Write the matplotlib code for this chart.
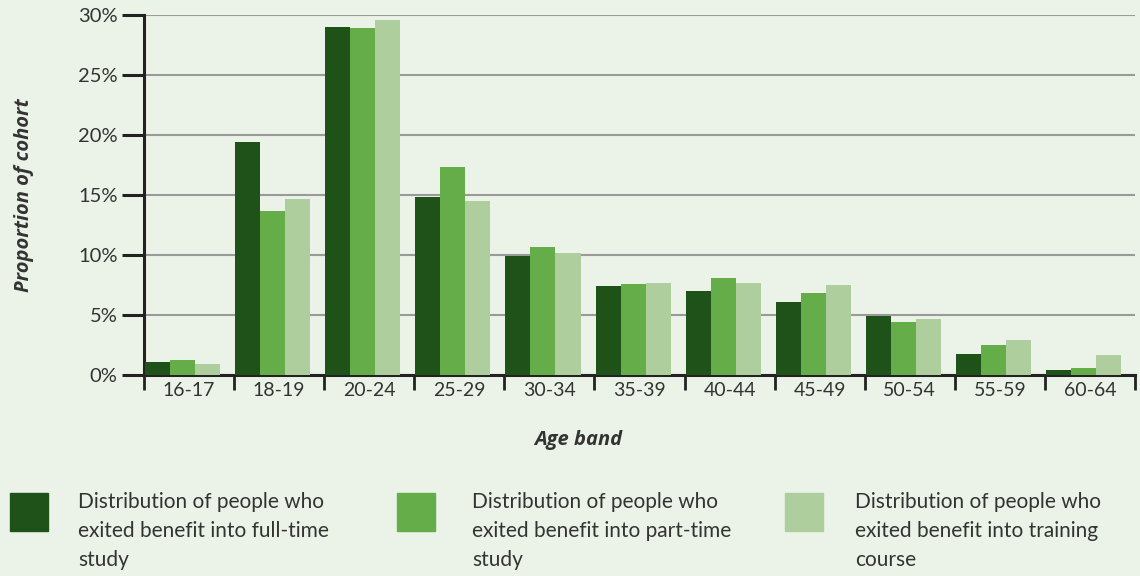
import numpy as np
import matplotlib
matplotlib.use("Agg")
from matplotlib import pyplot as plt
from matplotlib.patches import Rectangle
from matplotlib.ticker import FuncFormatter

plt.rcParams['font.family'] = ['Lato', 'DejaVu Sans']

# data (% of cohort)
age_bands = ['16-17', '18-19', '20-24', '25-29', '30-34', '35-39',
             '40-44', '45-49', '50-54', '55-59', '60-64']
full_time = [1.1, 19.4, 29.0, 14.8, 9.9, 7.4, 7.0, 6.1, 4.9, 1.75, 0.4]
part_time = [1.25, 13.7, 28.9, 17.3, 10.7, 7.6, 8.1, 6.8, 4.4, 2.5, 0.55]
training = [0.9, 14.7, 29.6, 14.5, 10.2, 7.7, 7.7, 7.5, 4.7, 2.9, 1.65]

series_labels = ['Distribution of people who\nexited benefit into full-time\nstudy',
                 'Distribution of people who\nexited benefit into part-time\nstudy',
                 'Distribution of people who\nexited benefit into training\ncourse']
colors = ['#1f5218', '#65ad49', '#aecf9d']
bg = '#ebf3e8'
txt = '#333333'

fig = plt.figure(figsize=(11.4, 5.76), dpi=100, facecolor=bg)
ax = fig.add_axes([144/1140, 1 - 375/576, 991/1140, 360/576])
ax.set_facecolor(bg)

x = np.arange(len(age_bands))
w = 25/90
for k, vals in enumerate([full_time, part_time, training]):
    ax.bar(x + 0.012 + w*k, vals, width=w, align='edge', color=colors[k], zorder=3)

ax.set_xlim(0, len(age_bands))
ax.set_ylim(0, 30)
ax.set_yticks(np.arange(0, 31, 5))
ax.yaxis.set_major_formatter(FuncFormatter(lambda v, p: f'{int(v)}%'))
ax.grid(axis='y', color='#9a9a9a', linewidth=1.5, zorder=0)

ax.set_xticks(np.arange(len(age_bands) + 1))
ax.set_xticklabels([])
ax.set_xticks(x + 0.5, minor=True)
ax.set_xticklabels(age_bands, minor=True)
ax.tick_params(axis='x', which='major', length=11, width=2, color='#222222')
ax.tick_params(axis='x', which='minor', length=0, pad=5, labelsize=14, labelcolor=txt)
ax.tick_params(axis='y', length=16, width=2.2, color='#222222', pad=3, labelsize=14.5, labelcolor=txt)

for s in ['top', 'right']:
    ax.spines[s].set_visible(False)
for s in ['left', 'bottom']:
    ax.spines[s].set_linewidth(2.2)
    ax.spines[s].set_color('#222222')

lab_font = dict(fontsize=14.5, fontweight='bold', style='italic', color=txt,
                family=['Open Sans', 'DejaVu Sans'])
ax.set_xlabel('Age band', **lab_font)
ax.xaxis.set_label_coords((578 - 144)/991, -(440 - 375)/360, transform=ax.transAxes)
ax.xaxis.label.set_va('center')
ax.set_ylabel('Proportion of cohort', **lab_font)
ax.yaxis.set_label_coords(-(144 - 24)/991, 0.5)
ax.yaxis.label.set_va('center')

# legend along the bottom
sq_x = [10, 397, 785]
tx_x = [78, 472, 855]
for k in range(3):
    fig.patches.append(Rectangle((sq_x[k]/1140, 1 - 531/576), 38/1140, 38/576,
                                 transform=fig.transFigure, color=colors[k]))
    fig.text(tx_x[k]/1140, 1 - 492/576, series_labels[k], fontsize=15, color=txt,
             va='top', ha='left', linespacing=1.55)

fig.savefig('out.png', dpi=100, facecolor=bg)
